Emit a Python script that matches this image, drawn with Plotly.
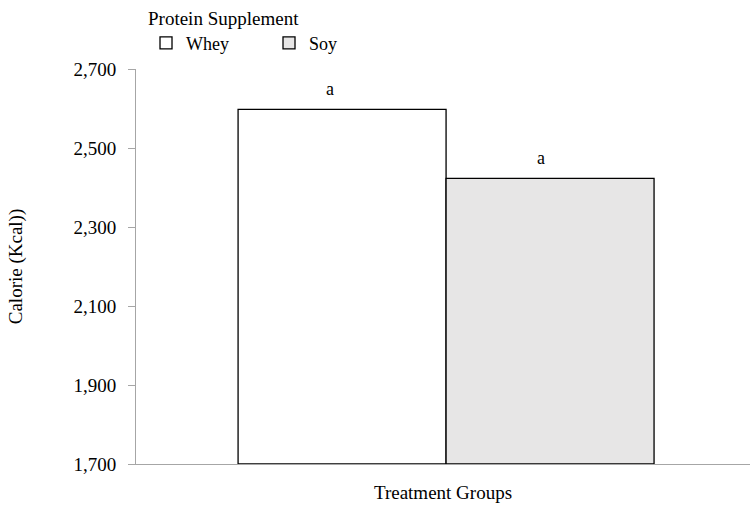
import plotly.graph_objects as go

groups = [""]
series_names = ["Whey", "Soy"]
series_values = [2598, 2423]
series_colors = ["#ffffff", "#e7e6e6"]
labels = ["a", "a"]
label_xshift = [-12, -9]
y_ticks = [1700, 1900, 2100, 2300, 2500, 2700]
y_tick_text = ["1,700", "1,900", "2,100", "2,300", "2,500", "2,700"]
y_base = 1700

font_family = "Liberation Serif, Times New Roman, serif"
bargap = 0.3225

fig = go.Figure()
for name, val, col in zip(series_names, series_values, series_colors):
    fig.add_trace(go.Bar(name=name, x=groups, y=[val - y_base], base=y_base,
                         marker=dict(color=col, line=dict(color="#000000", width=1.3))))

bar_w = (1 - bargap) / len(series_names)
for i, (val, lab) in enumerate(zip(series_values, labels)):
    cx = -(1 - bargap) / 2 + bar_w * (i + 0.5)
    fig.add_annotation(x=cx, y=val, xref="x", yref="y", text=lab, showarrow=False,
                       yshift=20, xshift=label_xshift[i], yanchor="middle",
                       font=dict(family=font_family, size=18, color="#000000"))

fig.update_layout(
    width=750, height=510,
    margin=dict(l=136, r=0, t=69, b=46),
    paper_bgcolor="#ffffff", plot_bgcolor="#ffffff",
    font=dict(family=font_family, size=19, color="#000000"),
    barmode="group", bargap=bargap, bargroupgap=0,
    showlegend=True,
    legend=dict(orientation="h", x=0.0163, y=1.175, xanchor="left", yanchor="top",
                title=dict(text="Protein Supplement", side="top", font=dict(size=19)),
                font=dict(size=18), entrywidth=78, entrywidthmode="pixels",
                traceorder="normal", bgcolor="rgba(0,0,0,0)"),
    xaxis=dict(showticklabels=False, showline=True, linecolor="#a6a6a6", linewidth=1,
               ticks="", showgrid=False, zeroline=False, range=[-0.505, 0.495],
               title=dict(text="Treatment Groups", font=dict(size=19), standoff=21)),
    yaxis=dict(range=[1700, 2700], tickvals=y_ticks, ticktext=y_tick_text,
               showline=True, linecolor="#a6a6a6", linewidth=1,
               ticks="outside", ticklen=7, tickcolor="#a6a6a6",
               ticklabelstandoff=8,
               showgrid=False, zeroline=False,
               title=dict(text="Calorie (Kcal))", font=dict(size=19), standoff=45)),
)

fig.write_html("out.html")
